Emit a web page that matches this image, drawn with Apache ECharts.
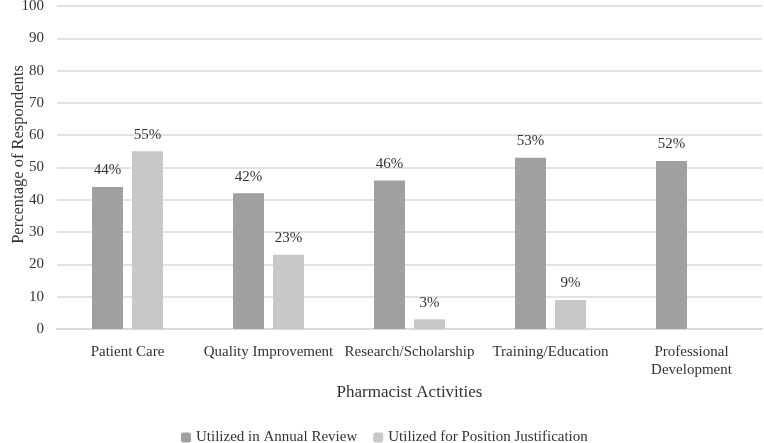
<!DOCTYPE html>
<html><head><meta charset="utf-8">
<script src="https://cdn.jsdelivr.net/npm/echarts@6/dist/echarts.min.js"></script>
<style>html,body{margin:0;padding:0;background:#fff}#c{width:764px;height:443px}</style>
</head><body><div id="c"></div>
<script>
const categories = ["Patient Care", "Quality Improvement", "Research/Scholarship", "Training/Education", "Professional\nDevelopment"];
const annualReview = [44, 42, 46, 53, 52];
const positionJustification = [55, 23, 3, 9, null];
const seriesNames = ["Utilized in Annual Review", "Utilized for Position Justification"];
const font = "Liberation Serif";
const chart = echarts.init(document.getElementById('c'));
const lbl = {show: true, position: 'top', distance: 9, formatter: p => p.value + '%', color: '#333', fontFamily: font, fontSize: 15};
chart.setOption({
  animation: false,
  textStyle: {fontFamily: font},
  grid: {left: 57, right: 2, top: 6, bottom: 114, outerBoundsMode: 'none', containLabel: false},
  legend: {top: 425, left: 176, itemWidth: 10, itemHeight: 10, itemGap: 16, textStyle: {fontFamily: font, fontSize: 15, color: '#333'}, data: seriesNames},
  xAxis: {type: 'category', data: categories, name: 'Pharmacist Activities', nameLocation: 'middle', nameGap: 55, nameMoveOverlap: false,
    nameTextStyle: {fontFamily: font, fontSize: 17, color: '#333'},
    axisLine: {lineStyle: {color: '#d9d9d9', width: 2}}, axisTick: {show: false},
    axisLabel: {fontFamily: font, fontSize: 15, color: '#333', margin: 14, interval: 0, lineHeight: 18}},
  yAxis: {type: 'value', min: 0, max: 100, interval: 10, name: 'Percentage of Respondents', nameLocation: 'middle', nameGap: 30, nameMoveOverlap: false,
    nameTextStyle: {fontFamily: font, fontSize: 16.5, color: '#333', padding: [0, 0, 0, 26]},
    axisLine: {show: false}, axisTick: {show: false},
    axisLabel: {fontFamily: font, fontSize: 15, color: '#333', margin: 13},
    splitLine: {lineStyle: {color: '#d9d9d9', width: 1.5}}},
  series: [
    {name: seriesNames[0], type: 'bar', data: annualReview, barWidth: 31, barGap: '29%', itemStyle: {color: '#a0a0a3'}, label: lbl},
    {name: seriesNames[1], type: 'bar', data: positionJustification, barWidth: 31, itemStyle: {color: '#c8c8ca'}, label: lbl}
  ]
});
</script></body></html>
